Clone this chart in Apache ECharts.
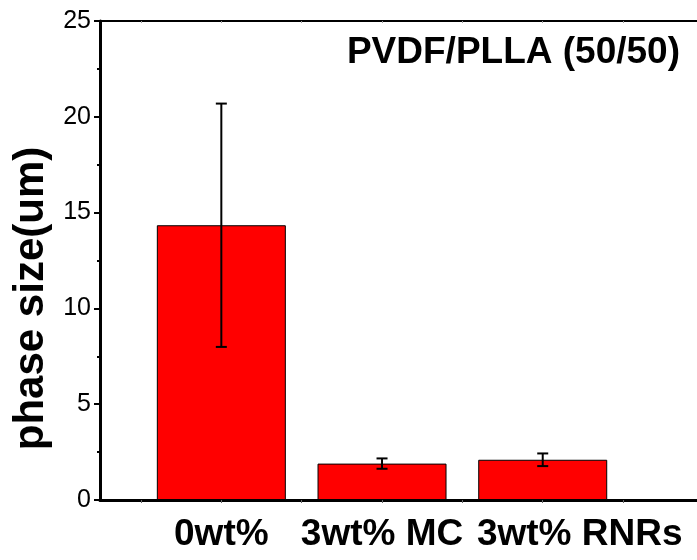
<!DOCTYPE html>
<html><head><meta charset="utf-8">
<script src="https://cdn.jsdelivr.net/npm/echarts@6/dist/echarts.min.js"></script>
<style>html,body{margin:0;padding:0;background:#fff}#c{width:697px;height:560px}</style>
</head><body><div id="c"></div>
<script>
var categories = ['0wt%', '3wt% MC', '3wt% RNRs'];
var positions = [1, 2, 3];
var means = [14.34, 1.90, 2.10];
var errors = [6.35, 0.27, 0.33];
var yTicks = [0, 5, 10, 15, 20, 25];

var chart = echarts.init(document.getElementById('c'), null, {renderer: 'canvas'});
var FF = '"Liberation Sans", Arial, sans-serif';
var barData = positions.map(function (p, i) { return [p, means[i]]; });
var errData = positions.map(function (p, i) { return [p, means[i] - errors[i], means[i] + errors[i]]; });
var labStyle = {fontFamily: FF, fontSize: 37, fontWeight: 'bold', color: '#000'};

chart.setOption({
  animation: false,
  backgroundColor: '#fff',
  grid: {left: 100, top: 21, right: 0, bottom: 60, containLabel: false},
  title: {
    text: 'PVDF/PLLA (50/50)', right: 12, top: 29,
    textStyle: {fontFamily: FF, fontSize: 37, fontWeight: 'bold', color: '#000'}
  },
  xAxis: [{
    type: 'value', min: 0.245, max: 3.96, position: 'bottom',
    axisLine: {show: true, lineStyle: {color: '#000', width: 3}},
    axisTick: {show: true, customValues: [0.5, 1, 1.5, 2, 2.5, 3, 3.5], length: 3, lineStyle: {color: '#666', width: 1}},
    axisLabel: {
      customValues: positions, margin: 16, hideOverlap: false,
      fontFamily: FF, fontSize: 37, fontWeight: 'bold', color: '#000',
      formatter: function (v) {
        var i = positions.indexOf(v);
        if (i < 0) return '';
        return (i === 2 ? '{r|' : '{c|') + categories[i] + '}';
      },
      rich: {
        c: labStyle,
        r: Object.assign({padding: [0, 0, 0, 74]}, labStyle)
      }
    },
    splitLine: {show: false}
  }, {
    type: 'value', min: 0.245, max: 3.96, position: 'top',
    axisLine: {show: true, lineStyle: {color: '#000', width: 2}},
    axisTick: {show: true, inside: true, customValues: [0.5, 1, 1.5, 2, 2.5, 3, 3.5], length: 2, lineStyle: {color: '#999', width: 1}},
    axisLabel: {show: false},
    splitLine: {show: false}
  }],
  yAxis: {
    type: 'value', min: 0, max: 25, interval: 5,
    name: '{n|phase size(um)}', nameLocation: 'middle', nameGap: 47,
    nameTextStyle: {
      fontFamily: FF, fontSize: 42, fontWeight: 'bold', color: '#000',
      rich: {n: {fontFamily: FF, fontSize: 42, fontWeight: 'bold', color: '#000', padding: [0, 76, 0, 0]}}
    },
    axisLine: {show: true, lineStyle: {color: '#000', width: 3}},
    axisTick: {show: true, length: 6, lineStyle: {color: '#000', width: 2}},
    minorTick: {show: true, splitNumber: 2, length: 3, lineStyle: {color: '#000', width: 2}},
    axisLabel: {
      margin: 9, fontFamily: FF, fontSize: 25, color: '#000',
      formatter: function (v) { return yTicks.indexOf(v) >= 0 ? String(v) : ''; }
    },
    splitLine: {show: false}
  },
  series: [{
    type: 'bar', data: barData, barWidth: 129,
    itemStyle: {color: '#ff0000', borderColor: '#000', borderWidth: 1}
  }, {
    type: 'custom', data: errData, z: 10,
    renderItem: function (params, api) {
      var x = api.value(0);
      var lo = api.coord([x, api.value(1)]);
      var hi = api.coord([x, api.value(2)]);
      var w = 5.5;
      var st = {stroke: '#000', lineWidth: 2};
      return {type: 'group', children: [
        {type: 'line', shape: {x1: lo[0], y1: lo[1], x2: hi[0], y2: hi[1]}, style: st},
        {type: 'line', shape: {x1: lo[0] - w, y1: lo[1], x2: lo[0] + w, y2: lo[1]}, style: st},
        {type: 'line', shape: {x1: hi[0] - w, y1: hi[1], x2: hi[0] + w, y2: hi[1]}, style: st}
      ]};
    }
  }]
});
</script></body></html>
